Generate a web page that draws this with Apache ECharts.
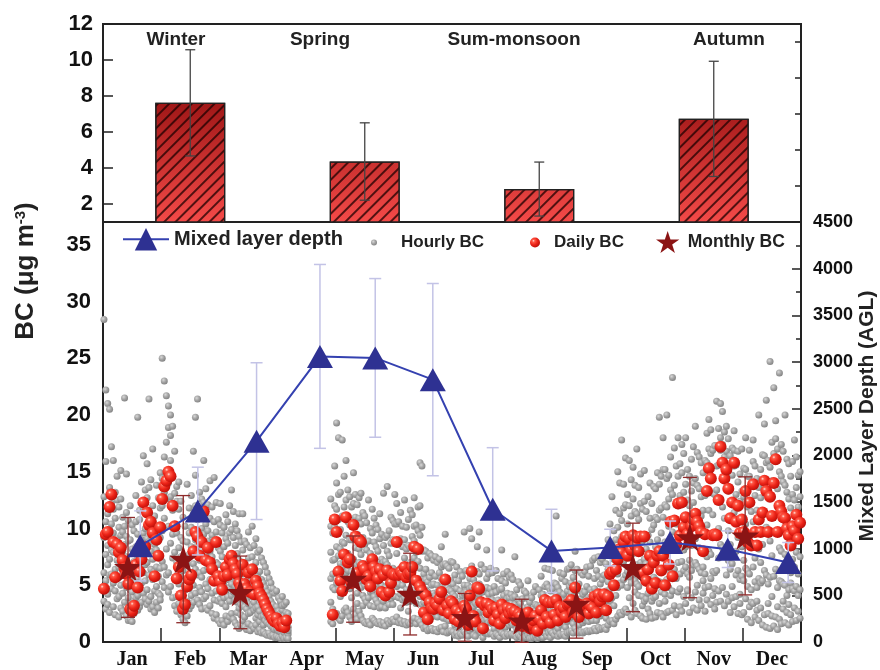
<!DOCTYPE html>
<html><head><meta charset="utf-8">
<script src="https://cdn.jsdelivr.net/npm/echarts@6/dist/echarts.min.js"></script>
<style>html,body{margin:0;padding:0;background:#fff}#c{width:880px;height:670px}</style>
</head><body><div id="c"></div>
<script>
const months = ['Jan','Feb','Mar','Apr','May','Jun','Jul','Aug','Sep','Oct','Nov','Dec'];
const daysInMonth = [31,28,31,30,31,30,31,31,30,31,30,31];

// Top panel: seasonal mean BC and SD
const seasons = ['Winter','Spring','Sum-monsoon','Autumn'];
const seasonMean = [7.62, 4.36, 2.83, 6.73];
const seasonSD = [2.95, 2.15, 1.5, 3.2];

// Mixed layer depth (m AGL), position in month units
const mldPos = [0.64,1.63,2.64,3.73,4.68,5.67,6.70,7.71,8.72,9.75,10.74,11.78];
const mldValue = [1030,1403,2152,3060,3044,2811,1422,976,1012,1066,994,852];
const mldSD = [375,470,840,985,850,1030,660,446,196,230,196,214];

// Monthly BC mean and SD
const monthlyPos = [0.43,1.38,2.36,null,4.30,5.28,6.22,7.20,8.14,9.11,10.09,11.04];
const monthlyBC = [6.57,7.3,4.37,null,5.54,4.22,2.17,1.87,3.34,6.57,9.2,9.35];
const monthlySD = [4.4,5.6,3.2,null,3.8,3.6,2.1,1.9,3.0,3.9,5.3,5.2];

// Daily BC per month
const dailyJan = [4.7,9.5,9.7,11.9,13.0,8.8,5.7,8.6,7.9,8.3,7.2,6.5,6.0,5.1,2.9,2.7,3.2,6.8,4.8,6.2,7.3,12.3,8.4,11.4,10.3,10.6,9.6,5.8,9.0,7.6,10.1];
const dailyFeb = [12.6,13.7,14.2,15.0,14.6,12.0,10.2,5.6,6.6,4.1,2.9,3.3,4.9,5.5,5.9,8.0,9.7,9.3,7.6,8.8,11.5,7.2,8.3,7.0,6.4,5.4,8.8,5.8];
const dailyMar = [5.3,4.6,5.8,6.6,5.9,7.3,7.6,6.9,6.4,6.0,5.2,4.8,6.8,5.1,4.7,6.1,4.4,6.4,4.2,5.4,4.9,4.3,4.0,3.7,3.3,2.9,2.6,2.3,2.0,1.8,2.1];
const dailyApr = [1.6,1.4,1.7,1.3,1.9,null,null,null,null,null,null,null,null,null,null,null,null,null,null,null,null,null,null,null,null,null,null,null,2.4,10.8];
const dailyMay = [9.7,6.2,5.4,4.5,7.7,11.0,7.0,7.3,5.2,10.3,9.3,6.1,9.0,8.8,6.7,6.4,5.5,5.8,4.9,7.3,6.6,6.2,5.6,6.4,4.4,5.9,4.1,6.3,4.4,5.2,6.0];
const dailyJun = [5.9,8.8,5.9,6.2,6.0,6.6,5.7,6.0,6.1,6.6,8.4,5.4,8.2,4.9,4.5,2.6,4.1,2.0,3.5,3.0,2.9,3.4,3.2,3.8,4.4,2.8,5.5,3.2,2.5,3.6];
const dailyJul = [3.4,2.0,2.8,1.8,2.6,2.3,3.2,2.9,1.5,4.1,6.2,2.3,1.8,4.8,4.7,3.5,1.2,3.2,3.4,2.6,3.2,2.9,1.9,3.0,2.4,1.6,3.3,2.8,2.1,3.0,2.5];
const dailyAug = [2.9,2.6,2.7,1.9,2.5,2.3,1.4,2.0,1.8,2.6,1.2,1.5,1.9,2.3,1.0,2.0,2.8,1.6,3.7,2.2,3.5,1.7,3.5,2.4,3.7,1.9,3.1,2.6,3.0,2.2,3.3];
const dailySep = [3.4,3.7,2.6,4.8,3.4,2.2,3.2,2.9,3.2,3.4,2.5,3.2,3.0,4.0,2.6,4.2,3.6,4.0,4.2,2.8,4.0,6.0,6.2,5.0,6.4,7.3,8.2,7.9,8.8,9.3];
const dailyOct = [7.6,9.1,8.1,9.4,8.5,9.2,8.0,9.3,6.1,9.3,5.4,6.4,7.6,4.7,7.0,5.2,7.6,8.0,6.3,7.6,5.0,8.2,6.8,10.6,5.8,10.7,8.6,12.2,9.4,12.3,10.1];
const dailyNov = [11.0,9.5,8.8,10.2,10.8,11.3,10.6,10.2,9.7,8.0,9.5,13.3,15.3,14.4,9.4,9.5,9.4,12.5,17.2,15.8,14.4,15.2,13.5,10.9,12.3,15.8,10.6,12.0,9.6,10.8];
const dailyDec = [9.7,13.3,8.8,12.3,8.5,13.9,9.7,8.5,10.8,9.7,11.4,14.2,13.3,9.7,12.8,11.1,14.0,16.1,9.7,12.0,11.5,11.0,10.9,10.0,9.4,8.5,10.2,9.8,11.2,9.1,10.5];

// Hourly BC per month: one list of readings per day
const hourlyJan = [[28.4,3.6,9.2,6.1,12.8,4.9],[22.2,7.7,2.9,10.6,5.4,15.9],[21.0,11.3,4.2,8.5,3.3,6.8],[20.5,5.9,13.6,9.9,7.3,2.6],[17.2,8.1,4.7,12.2,10.4,6.0],[16.0,3.1,9.6,5.2,11.7,7.9],[6.4,13.2,2.4,8.8,10.9,4.5],[9.1,3.8,12.5,5.7,7.2,14.6],[2.2,10.1,6.6,4.0,8.3,11.9],[15.1,5.0,9.4,3.0,7.0,12.6],[4.3,8.0,2.7,11.0,6.2,9.7],[21.5,6.9,3.5,10.2,5.1,8.6],[14.8,2.3,7.5,4.8,9.3,11.4],[3.9,6.3,1.9,8.9,5.5,10.7],[2.0,4.6,9.0,3.2,6.7,12.0],[5.8,1.8,8.2,3.4,10.3,4.4],[7.1,2.5,4.9,9.8,3.6,6.0],[12.9,3.9,8.4,5.3,10.6,6.9],[19.8,4.1,7.4,2.8,9.5,5.6],[6.5,10.8,3.1,8.7,4.8,11.6],[9.0,5.2,12.3,3.5,7.6,14.1],[16.4,7.9,4.3,11.8,6.1,9.6],[5.4,13.4,8.3,3.8,10.0,6.8],[15.7,4.6,9.1,12.7,7.0,3.3],[21.4,8.8,5.9,11.2,3.6,13.6],[6.4,10.5,4.0,14.3,8.0,2.9],[17.0,5.5,9.9,3.1,12.0,7.3],[4.5,8.6,2.6,11.1,6.2,9.4],[13.8,6.6,3.5,10.2,4.9,8.1],[7.7,3.0,12.7,5.8,9.6,4.3],[14.9,9.2,4.1,11.8,6.5,3.7]];
const hourlyFeb = [[25.0,9.8,5.3,14.4,7.1,12.0],[23.0,6.6,16.3,10.9,4.8,13.2],[21.7,12.6,8.2,17.6,5.9,15.0],[20.8,14.0,6.1,18.9,10.2,4.4],[20.0,8.7,16.0,4.9,12.8,18.2],[19.0,11.6,3.9,14.6,7.4,9.5],[16.8,5.6,10.3,3.2,13.1,7.9],[4.0,12.4,7.0,2.7,9.6,13.7],[8.3,3.4,11.7,5.1,14.1,6.5],[2.4,9.2,5.8,12.4,3.9,7.5],[6.3,2.0,8.9,4.1,11.0,3.3],[1.7,5.0,10.2,3.0,7.4,4.6],[13.9,3.6,6.8,2.3,8.8,5.4],[7.7,2.9,11.8,4.7,9.6,6.0],[3.2,8.4,5.6,12.9,4.1,10.1],[16.8,6.9,3.5,11.3,8.0,5.0],[19.8,9.0,4.3,12.0,6.4,14.7],[21.4,5.9,10.8,3.7,8.5,11.7],[7.2,13.2,4.8,9.9,3.3,6.1],[12.6,4.4,8.1,2.9,10.0,5.7],[16.0,9.5,3.8,12.3,6.3,7.7],[5.1,10.4,3.0,13.5,7.8,4.0],[8.9,2.8,12.1,6.6,4.7,9.8],[14.2,5.5,3.2,10.9,8.0,6.9],[4.3,11.9,6.9,2.5,9.4,7.5],[14.5,3.7,8.6,6.0,2.1,10.6],[7.0,12.3,4.5,9.7,2.4,5.8],[1.9,8.3,5.7,10.8,3.6,6.8]];
const hourlyMar = [[5.9,1.6,10.3,3.8,8.0,12.2],[3.4,7.5,1.9,9.6,5.3,4.2],[8.4,3.9,6.2,1.5,10.1,5.0],[2.3,9.1,4.5,11.2,6.8,3.1],[6.4,1.8,10.6,4.0,8.7,5.5],[12.0,4.8,2.2,7.3,9.6,3.6],[13.4,5.1,9.9,2.5,7.6,4.1],[4.4,11.5,2.0,6.9,9.2,5.7],[8.5,1.7,6.1,3.7,10.4,4.9],[3.5,7.8,1.4,9.8,5.6,2.6],[11.3,5.0,1.2,7.2,3.0,9.3],[6.9,1.5,4.9,8.8,3.3,2.4],[3.8,8.1,6.0,1.9,11.3,4.7],[1.3,6.7,3.1,8.9,4.8,2.2],[4.5,1.1,8.6,2.9,6.4,3.7],[7.4,3.4,9.7,1.6,5.5,2.5],[2.6,6.1,1.0,8.3,4.2,5.0],[5.1,10.2,1.4,7.5,3.2,4.0],[2.8,6.3,1.2,8.5,4.4,3.5],[9.1,1.5,4.9,3.0,7.0,2.1],[4.0,0.9,7.9,2.4,5.8,3.1],[1.1,6.2,2.7,8.1,4.3,1.8],[3.8,0.8,5.5,2.2,7.4,4.6],[2.3,7.0,0.9,5.2,3.6,1.5],[4.8,1.9,6.6,0.7,3.3,2.6],[0.6,3.0,6.1,1.7,4.4,2.2],[2.7,5.6,0.8,4.0,1.6,3.4],[1.4,3.6,0.5,5.2,2.4,1.9],[3.3,0.6,4.7,1.3,2.2,2.9],[0.4,2.0,4.3,1.1,3.0,1.6],[2.1,0.5,3.1,1.2,4.5,2.6]];
const hourlyApr = [[1.8,0.4,3.9,1.0,2.7,1.4],[0.3,2.5,1.6,3.6,0.9,2.0],[2.8,1.1,4.0,0.5,1.9,3.2],[0.8,2.3,0.3,3.3,1.5,1.2],[1.7,0.4,2.6,1.0,3.5,2.1],[0.7,1.9,0.3,2.5,1.3,1.0],null,null,null,null,null,null,null,null,null,null,null,null,null,null,null,null,null,null,null,null,null,[5.6,1.8,10.2,3.5,7.9,12.6],[2.9,9.6,4.8,1.6,7.2,6.0],[15.5,4.6,10.1,2.4,7.3,12.0]];
const hourlyMay = [[19.3,8.4,2.5,11.7,5.2,14.0],[7.6,18.0,4.6,10.8,2.1,13.0],[4.0,9.9,1.9,13.2,6.9,8.2],[17.8,6.5,2.3,8.8,4.4,11.1],[11.9,2.8,8.7,5.6,14.6,7.0],[16.0,9.4,3.0,12.5,6.1,4.7],[5.0,10.6,2.6,7.8,13.4,6.3],[7.5,2.2,12.8,4.7,10.3,9.0],[3.9,9.0,1.8,6.2,11.9,5.1],[12.2,5.8,9.1,2.9,14.9,7.3],[8.3,2.4,11.0,5.1,13.0,6.5],[4.3,9.5,2.0,6.8,12.1,3.4],[10.9,5.3,2.7,8.2,12.7,7.0],[7.7,2.3,10.4,4.8,13.1,9.2],[6.6,1.9,9.2,4.1,11.4,3.2],[3.8,8.6,1.7,6.1,11.1,5.0],[5.7,1.6,8.1,3.5,10.5,6.9],[12.5,3.9,6.3,1.8,8.9,5.2],[7.8,1.5,5.3,3.2,10.0,4.4],[4.5,9.6,2.1,7.0,11.7,5.8],[6.4,1.9,8.8,4.0,10.9,3.1],[8.4,3.7,1.7,6.0,10.3,4.9],[3.4,8.0,1.6,5.6,9.9,6.8],[11.3,4.2,6.7,1.8,9.1,3.0],[5.0,1.5,7.3,3.1,9.5,6.1],[13.1,3.6,8.5,1.7,5.9,7.0],[4.8,9.2,1.4,7.1,3.0,5.7],[13.7,6.8,1.9,9.4,4.3,8.0],[3.3,7.6,1.6,5.2,9.8,4.1],[8.7,3.8,11.0,1.8,6.1,5.0],[6.5,2.0,10.7,4.1,9.0,3.3]];
const hourlyJun = [[13.0,4.0,8.9,1.8,6.3,10.4],[7.8,2.2,12.2,4.9,10.4,6.0],[3.9,8.6,1.7,6.2,10.6,5.1],[9.1,4.2,11.4,1.9,6.5,3.0],[6.0,1.6,8.4,3.7,10.2,5.0],[12.5,3.9,6.4,1.8,9.0,7.4],[5.7,1.5,8.2,3.5,10.1,4.6],[3.8,8.5,1.7,6.1,10.8,2.7],[11.6,5.9,1.6,8.3,3.6,7.0],[6.6,1.9,9.3,4.1,11.2,5.3],[4.6,10.2,2.1,7.4,12.7,8.9],[7.9,1.6,5.5,3.4,10.3,6.6],[9.8,4.4,2.0,7.1,11.9,5.6],[15.8,6.5,1.8,9.4,4.0,12.0],[15.5,3.3,8.0,1.5,5.4,10.1],[4.2,1.2,6.0,2.6,8.1,3.5],[2.9,6.4,1.3,4.6,8.0,5.5],[5.3,1.0,3.7,7.4,2.2,4.4],[2.5,5.7,1.1,7.8,4.0,3.2],[6.1,2.4,7.6,1.2,3.9,5.0],[3.6,1.0,5.1,2.3,7.2,4.3],[1.1,4.1,7.5,2.5,5.8,3.2],[5.0,2.2,0.9,3.5,7.0,4.4],[2.7,6.1,1.2,4.3,7.3,3.4],[4.7,1.3,8.4,2.9,6.6,5.6],[3.4,0.9,4.9,2.1,6.8,2.8],[9.5,3.1,5.0,1.4,6.9,4.0],[2.0,4.8,0.8,3.3,6.7,2.6],[4.6,1.9,3.1,0.9,6.5,3.8],[2.3,5.4,1.0,3.8,7.1,4.5]];
const hourlyJul = [[3.5,0.9,5.1,2.1,7.0,4.2],[1.5,4.0,0.6,2.6,5.9,3.2],[4.7,1.9,6.6,0.8,3.1,2.4],[0.5,2.3,3.6,1.3,5.4,2.9],[3.0,0.7,4.5,1.8,6.2,2.2],[1.6,4.1,0.6,2.7,5.8,3.5],[9.7,2.0,5.0,0.9,3.4,4.3],[2.9,0.7,4.4,1.7,6.3,3.6],[1.2,3.3,0.5,2.1,5.0,2.6],[10.0,2.4,5.6,1.0,3.9,4.7],[4.8,1.2,6.7,2.9,9.1,3.7],[2.5,0.6,3.8,1.4,5.5,3.1],[0.5,2.2,3.4,1.3,5.1,4.0],[6.2,1.1,4.3,2.6,8.4,3.3],[2.5,9.7,4.2,1.0,6.0,5.1],[3.3,0.8,4.9,2.0,6.8,2.7],[1.8,0.4,2.8,1.0,4.4,3.4],[3.2,0.8,4.6,1.9,6.4,2.6],[8.1,2.0,4.8,0.9,3.3,5.6],[1.7,4.2,0.7,2.8,6.0,3.5],[3.1,0.8,4.7,1.8,6.5,2.4],[2.8,6.1,0.7,1.6,4.3,3.7],[1.2,3.2,0.5,2.0,4.9,2.5],[4.4,0.7,2.9,1.7,6.3,3.6],[2.4,0.6,3.7,1.4,5.6,3.0],[0.4,1.9,3.0,1.1,4.6,2.3],[8.1,1.9,4.7,0.8,3.2,5.4],[2.7,0.7,4.1,1.6,6.0,3.4],[1.3,3.4,0.5,2.2,5.2,2.8],[4.3,0.7,2.9,1.7,6.2,3.8],[2.6,5.7,0.6,1.5,3.9,3.2]];
const hourlyAug = [[2.8,0.7,4.2,1.7,5.9,3.4],[1.5,3.9,0.6,2.6,5.5,2.1],[7.5,1.6,4.0,0.6,2.7,3.3],[1.1,3.0,0.4,1.9,4.6,2.4],[2.4,0.6,3.7,1.4,5.3,2.9],[0.5,2.2,3.4,1.3,5.0,1.8],[1.5,0.3,2.4,0.8,3.8,2.0],[3.0,0.4,1.9,1.1,4.5,2.5],[1.8,0.4,2.8,1.0,4.3,2.2],[3.8,0.6,2.5,1.5,5.4,3.1],[0.7,2.1,0.3,1.3,3.5,1.7],[1.5,0.3,2.4,0.9,3.9,2.0],[2.9,0.4,1.8,1.0,4.4,2.3],[2.2,0.5,3.3,1.3,4.9,2.7],[1.1,0.3,1.9,0.6,3.2,1.5],[3.1,0.4,1.9,1.1,4.6,2.5],[2.7,0.6,4.1,1.6,5.8,3.3],[1.7,0.4,2.7,0.9,4.2,2.1],[3.4,0.8,4.9,2.0,6.5,2.8],[2.1,0.5,3.3,1.2,5.1,2.6],[4.8,0.8,3.3,1.9,6.4,2.5],[1.8,0.4,2.9,1.0,4.5,2.2],[3.2,0.8,4.7,1.9,6.3,2.6],[2.4,0.6,3.6,1.4,5.2,2.9],[11.1,2.1,5.1,0.9,3.5,4.2],[2.0,0.5,3.2,1.2,4.8,2.5],[2.9,0.7,4.4,1.7,6.1,3.5],[2.5,0.6,3.8,1.5,5.6,3.0],[4.2,0.7,2.8,1.6,6.0,3.4],[2.2,0.5,3.5,1.3,5.3,2.7],[3.0,0.8,4.5,1.8,6.4,3.7]];
const hourlySep = [[3.3,0.9,4.9,2.0,6.5,2.6],[2.2,5.2,1.0,3.6,6.8,4.3],[1.6,4.0,0.8,2.7,5.7,3.2],[4.5,1.2,6.3,2.7,8.0,3.6],[2.0,4.8,0.9,3.3,6.4,2.6],[1.5,3.4,0.8,2.3,5.1,2.9],[3.1,0.9,4.5,1.9,6.1,3.8],[2.8,0.8,4.2,1.7,5.9,2.3],[1.9,4.4,0.9,3.0,6.2,3.6],[3.3,1.0,4.9,2.1,6.6,2.7],[2.6,0.9,3.9,1.8,5.8,3.2],[3.2,1.0,4.6,2.1,6.7,3.9],[1.9,4.4,1.0,3.0,7.2,2.5],[3.9,1.2,5.6,2.5,7.4,4.7],[2.7,1.0,4.1,1.9,6.3,3.4],[4.1,1.3,5.8,2.6,7.5,3.3],[2.3,5.1,1.1,3.6,7.0,4.4],[3.9,1.2,5.5,2.5,7.3,3.0],[2.7,4.2,1.3,5.9,7.6,3.5],[3.0,1.1,4.5,2.1,6.9,3.8],[9.0,2.8,4.3,1.5,6.4,5.3],[3.6,8.1,1.8,5.8,10.4,4.7],[12.8,3.9,6.1,1.9,8.6,5.0],[5.0,1.6,7.3,3.2,9.8,6.2],[4.1,9.0,2.0,6.4,11.6,7.7],[15.0,4.8,7.4,2.3,10.1,6.0],[8.2,2.6,11.3,5.2,14.0,6.9],[17.8,5.0,7.9,2.4,10.7,9.3],[5.5,2.7,8.7,11.8,13.9,7.1],[16.2,5.9,9.2,2.9,12.1,7.6]];
const hourlyOct = [[7.5,2.6,10.4,4.8,13.0,6.2],[16.0,5.7,9.0,3.9,12.0,7.4],[5.2,11.1,2.2,8.1,14.3,6.6],[9.3,3.4,12.6,5.9,15.4,7.8],[4.4,8.5,2.8,11.5,13.8,5.4],[17.0,5.1,8.2,2.5,11.3,6.8],[7.9,4.1,10.8,4.9,13.6,9.4],[5.8,9.2,2.3,12.2,14.8,7.0],[6.2,2.1,8.9,4.0,11.7,3.2],[9.1,3.6,12.4,5.6,15.1,7.3],[3.8,8.2,2.0,5.6,11.5,6.9],[6.5,2.9,9.4,4.3,12.8,5.1],[4.9,10.9,2.5,7.7,14.0,8.8],[5.0,2.1,7.6,3.6,12.2,9.9],[7.1,3.9,10.3,4.6,13.7,5.7],[4.0,13.5,2.2,8.4,5.5,11.0],[7.6,2.6,10.8,5.0,14.9,9.0],[19.8,5.3,8.1,3.4,11.6,13.9],[6.4,2.5,9.6,4.4,14.6,11.8],[18.0,5.2,7.7,2.2,11.0,15.2],[5.3,3.6,8.8,4.2,15.2,12.1],[20.0,5.5,8.3,2.6,11.9,14.4],[6.9,2.7,10.2,4.8,14.7,12.6],[10.5,4.1,13.4,6.2,16.3,8.7],[23.3,4.5,9.7,2.8,6.0,13.0],[10.6,3.2,13.8,6.4,17.1,8.5],[8.7,2.4,12.1,5.6,15.5,10.4],[12.0,4.4,14.6,7.0,18.0,9.3],[9.4,3.1,12.9,6.0,15.7,4.7],[12.2,2.7,14.9,7.1,17.4,9.8],[10.0,4.0,13.2,6.3,16.6,8.1]];
const hourlyNov = [[10.9,3.4,13.9,6.6,18.0,8.4],[9.6,4.6,12.5,6.0,15.2,4.5],[5.7,8.8,2.6,12.0,14.6,7.2],[10.1,3.9,13.3,6.3,16.1,8.5],[6.8,10.8,3.0,14.0,17.2,12.3],[11.2,4.4,14.4,7.0,19.0,9.1],[10.5,2.8,13.8,6.7,16.7,5.0],[6.4,10.1,3.7,13.5,16.3,8.3],[9.7,3.2,12.8,6.1,15.8,11.1],[8.1,4.3,11.6,5.4,14.9,6.6],[9.4,2.7,12.9,6.0,16.0,4.8],[13.2,3.7,15.8,7.5,18.4,10.3],[15.1,4.9,17.0,8.0,19.6,11.6],[14.3,3.3,16.6,7.7,18.7,5.6],[9.4,4.1,13.1,6.2,16.9,11.2],[9.5,2.9,13.0,6.1,17.3,4.7],[21.2,6.3,9.3,3.5,13.4,15.5],[12.4,4.5,15.6,7.4,18.8,10.0],[21.0,8.6,16.9,3.6,12.6,18.0],[20.3,8.3,15.6,4.8,11.9,17.4],[14.2,3.2,16.3,7.6,18.5,10.9],[15.0,4.2,16.8,8.1,19.0,5.9],[13.3,3.6,15.5,7.2,17.9,9.8],[10.8,2.6,13.6,6.4,16.4,8.6],[12.1,3.9,14.7,6.9,17.1,4.9],[15.5,3.1,16.9,7.8,18.6,11.4],[10.5,4.0,13.0,5.9,15.6,8.0],[11.8,2.5,14.1,6.3,16.8,9.2],[9.5,3.4,12.4,5.5,14.8,4.2],[10.7,2.4,13.3,5.8,17.0,8.4]];
const hourlyDec = [[9.6,2.6,12.8,5.4,15.3,7.2],[13.1,3.8,15.2,6.5,18.0,10.4],[8.7,2.0,11.9,4.9,14.6,6.3],[12.2,3.1,14.6,6.0,16.9,9.3],[8.4,1.7,11.5,4.6,14.0,3.5],[13.7,3.4,15.9,6.6,17.8,10.6],[9.6,2.2,12.9,5.3,15.5,7.4],[8.4,2.8,11.6,4.8,14.4,3.6],[10.7,1.9,13.6,5.6,20.0,8.2],[9.6,3.0,12.7,5.2,15.2,7.0],[11.3,1.5,14.1,5.4,16.5,8.6],[14.0,2.4,16.4,6.3,19.2,9.9],[13.2,1.3,15.8,5.9,21.3,10.1],[9.6,2.5,13.0,5.1,16.0,3.4],[12.7,1.2,15.4,5.7,24.7,8.9],[11.0,2.3,14.2,4.0,17.6,7.6],[13.9,1.4,16.6,5.8,22.4,9.7],[15.9,2.2,17.9,6.4,19.5,11.2],[9.6,1.1,13.5,4.8,17.0,3.1],[11.9,2.0,15.0,5.4,23.7,8.3],[11.4,1.6,14.6,5.3,17.4,8.0],[10.9,2.9,14.1,5.1,16.8,3.6],[10.8,1.7,13.8,5.0,20.0,7.7],[9.9,2.6,13.2,4.1,16.1,6.8],[9.3,1.5,12.6,4.6,15.7,3.3],[8.4,2.4,11.8,5.2,14.6,6.1],[10.1,1.8,13.0,4.7,15.9,7.3],[9.7,3.0,12.5,4.5,17.8,6.6],[11.1,1.9,13.6,4.9,16.3,7.9],[9.0,2.7,11.9,4.1,14.7,6.0],[10.4,2.1,12.8,4.6,15.0,7.5]];

const hourlyAll = [hourlyJan,hourlyFeb,hourlyMar,hourlyApr,hourlyMay,hourlyJun,hourlyJul,hourlyAug,hourlySep,hourlyOct,hourlyNov,hourlyDec];
const dailyAll = [dailyJan,dailyFeb,dailyMar,dailyApr,dailyMay,dailyJun,dailyJul,dailyAug,dailySep,dailyOct,dailyNov,dailyDec];

// every reading of a day is placed at that day's position (vertical daily streaks)
const hourlyPts = [];
hourlyAll.forEach((month, m) => {
  const nd = daysInMonth[m];
  month.forEach((vals, d) => {
    if (!vals) return;
    vals.forEach(v => hourlyPts.push([m + (d + 0.5) / nd, v]));
  });
});
const dailyPts = [];
dailyAll.forEach((month, m) => {
  const nd = daysInMonth[m];
  month.forEach((v, d) => { if (v != null) dailyPts.push([m + (d + 0.5) / nd, v]); });
});
const monthlyPts = [], monthlyErr = [];
monthlyBC.forEach((v, i) => {
  if (v == null) return;
  monthlyPts.push([monthlyPos[i], v]);
  monthlyErr.push([monthlyPos[i], v - monthlySD[i], v + monthlySD[i]]);
});
const mldPts = mldValue.map((v, i) => [mldPos[i], v]);
const mldErr = mldValue.map((v, i) => [mldPos[i], v - mldSD[i], v + mldSD[i]]);
const seasonErr = seasonMean.map((v, i) => [i, v - seasonSD[i], v + seasonSD[i]]);

function errRenderer(color, width, cap) {
  return function (params, api) {
    const x = api.value(0);
    const lo = api.coord([x, api.value(1)]);
    const hi = api.coord([x, api.value(2)]);
    const st = { stroke: color, lineWidth: width };
    return { type: 'group', children: [
      { type: 'line', shape: { x1: hi[0], y1: hi[1], x2: lo[0], y2: lo[1] }, style: st },
      { type: 'line', shape: { x1: hi[0] - cap/2, y1: hi[1], x2: hi[0] + cap/2, y2: hi[1] }, style: st },
      { type: 'line', shape: { x1: lo[0] - cap/2, y1: lo[1], x2: lo[0] + cap/2, y2: lo[1] }, style: st }
    ]};
  };
}

const SANS = 'Liberation Sans, Arial, sans-serif';
const SERIF = 'Liberation Serif, Times New Roman, serif';
const STAR = 'path://M50,0 L61.8,35.1 L98.8,35.1 L68.9,56.9 L80.3,92 L50,70.3 L19.7,92 L31.1,56.9 L1.2,35.1 L38.2,35.1 Z';

const grayBall = { type: 'radial', x: 0.38, y: 0.35, r: 0.7, colorStops: [
  { offset: 0, color: '#d8d8d8' }, { offset: 0.5, color: '#a4a4a4' }, { offset: 1, color: '#808080' } ] };
const redBall = { type: 'radial', x: 0.35, y: 0.33, r: 0.72, colorStops: [
  { offset: 0, color: '#ffe2dc' }, { offset: 0.18, color: '#ff5a48' }, { offset: 0.55, color: '#ec2418' }, { offset: 1, color: '#b80e08' } ] };

const legendText = size => ({ fontFamily: SANS, fontWeight: 'bold', fontSize: size, color: '#222' });

const chart = echarts.init(document.getElementById('c'), null, { renderer: 'canvas' });
chart.setOption({
  animation: false,
  backgroundColor: '#fff',
  grid: [
    { left: 103, top: 24, width: 698, height: 198, show: true, borderColor: '#222', borderWidth: 2, backgroundColor: 'transparent' },
    { left: 103, top: 222, width: 698, height: 421, show: true, borderColor: '#222', borderWidth: 2, backgroundColor: 'transparent' }
  ],
  xAxis: [
    { gridIndex: 0, type: 'category', data: seasons, axisLine: { show: false },
      axisTick: { show: true, inside: true, alignWithLabel: true, length: 10, lineStyle: { color: '#222', width: 1.5 } },
      axisLabel: { show: false }, splitLine: { show: false } },
    { gridIndex: 1, type: 'value', min: 0, max: 12, axisLine: { show: false },
      axisTick: { show: true, inside: true, length: 14, customValues: [1,2,3,4,5,6,7,8,9,10,11], lineStyle: { color: '#222', width: 1.5 } },
      axisLabel: { customValues: [0.5,1.5,2.5,3.5,4.5,5.5,6.5,7.5,8.5,9.5,10.5,11.5],
        formatter: v => months[Math.floor(v)], fontFamily: SERIF, fontWeight: 'bold', fontSize: 20, color: '#111', margin: 8 },
      splitLine: { show: false } }
  ],
  yAxis: [
    { gridIndex: 0, type: 'value', min: 1, max: 12, axisLine: { show: false },
      axisTick: { show: true, inside: true, length: 10, customValues: [2,4,6,8,10,12], lineStyle: { color: '#222', width: 1.5 } },
      axisLabel: { customValues: [2,4,6,8,10,12], fontFamily: SANS, fontWeight: 'bold', fontSize: 22, color: '#111', margin: 10 },
      splitLine: { show: false } },
    { gridIndex: 0, type: 'value', min: 1, max: 12, axisLine: { show: false },
      axisTick: { show: true, inside: true, length: 6, customValues: [3,5,7,9,11], lineStyle: { color: '#222', width: 1.5 } },
      axisLabel: { show: false }, splitLine: { show: false } },
    { gridIndex: 1, type: 'value', min: 0, max: 37, axisLine: { show: false },
      axisTick: { show: false },
      axisLabel: { customValues: [0,5,10,15,20,25,30,35], fontFamily: SANS, fontWeight: 'bold', fontSize: 22, color: '#111', margin: 12 },
      splitLine: { show: false } },
    { gridIndex: 1, type: 'value', min: 0, max: 4500, interval: 500, position: 'right', axisLine: { show: false },
      axisTick: { show: true, inside: true, length: 9, lineStyle: { color: '#222', width: 1.5 } },
      minorTick: { show: true, splitNumber: 2, length: 5, lineStyle: { color: '#222', width: 1.5 } },
      axisLabel: { formatter: v => String(v), fontFamily: SANS, fontWeight: 'bold', fontSize: 18, color: '#111', margin: 12 },
      splitLine: { show: false } }
  ],
  legend: [
    { data: ['Mixed layer depth'], left: 122, top: 228, padding: 0, selectedMode: false, itemWidth: 46, itemHeight: 28,
      textStyle: legendText(20) },
    { data: ['Hourly BC'], left: 371, top: 234, padding: 0, selectedMode: false, itemWidth: 44, itemHeight: 6,
      textStyle: legendText(17) },
    { data: ['Daily BC'], left: 530, top: 234, padding: 0, selectedMode: false, itemWidth: 28, itemHeight: 10,
      textStyle: legendText(17) },
    { data: ['Monthly BC'], left: 656, top: 231, padding: 0, selectedMode: false, itemWidth: 30, itemHeight: 22,
      textStyle: legendText(17.5) }
  ],
  graphic: [
    { type: 'text', x: 176, y: 40, style: { text: 'Winter', textAlign: 'center', textVerticalAlign: 'middle', font: 'bold 19px ' + SANS, fill: '#222' } },
    { type: 'text', x: 320, y: 40, style: { text: 'Spring', textAlign: 'center', textVerticalAlign: 'middle', font: 'bold 19px ' + SANS, fill: '#222' } },
    { type: 'text', x: 514, y: 40, style: { text: 'Sum-monsoon', textAlign: 'center', textVerticalAlign: 'middle', font: 'bold 19px ' + SANS, fill: '#222' } },
    { type: 'text', x: 729, y: 40, style: { text: 'Autumn', textAlign: 'center', textVerticalAlign: 'middle', font: 'bold 19px ' + SANS, fill: '#222' } },
    { type: 'text', x: 26, y: 271, rotation: Math.PI / 2,
      style: { text: 'BC (μg m{sup|-3})', textAlign: 'center', textVerticalAlign: 'middle', font: 'bold 26px ' + SANS, fill: '#222',
        rich: { sup: { fontSize: 15, fontWeight: 'bold', fontFamily: SANS, verticalAlign: 'top', padding: [0, 0, 11, 0] } } } },
    { type: 'text', x: 867, y: 416, rotation: Math.PI / 2,
      style: { text: 'Mixed Layer Depth (AGL)', textAlign: 'center', textVerticalAlign: 'middle', font: 'bold 21px ' + SANS, fill: '#222' } }
  ],
  series: [
    { name: 'Seasonal BC', type: 'bar', xAxisIndex: 0, yAxisIndex: 0, data: seasonMean, barWidth: 70, z: 2,
      itemStyle: {
        color: { type: 'linear', x: 0, y: 100, x2: 0, y2: 222, global: true, colorStops: [
          { offset: 0, color: '#9e1616' }, { offset: 1, color: '#f44a48' } ] },
        borderColor: '#222', borderWidth: 1.2,
        decal: { symbol: 'rect', symbolSize: 1, dashArrayX: [1, 0], dashArrayY: [1.3, 6], rotation: -Math.PI / 4, color: 'rgba(30,0,0,0.75)' }
      } },
    { name: 'Seasonal SD', type: 'custom', xAxisIndex: 0, yAxisIndex: 0, data: seasonErr, z: 3,
      encode: { x: 0, y: [1, 2] }, renderItem: errRenderer('#444', 1.3, 10) },
    { name: 'Hourly BC', type: 'scatter', xAxisIndex: 1, yAxisIndex: 2, data: hourlyPts, symbolSize: 7, z: 2,
      itemStyle: { color: grayBall, opacity: 1 } },
    { name: 'Daily BC', type: 'scatter', xAxisIndex: 1, yAxisIndex: 2, data: dailyPts, symbolSize: 12, z: 3,
      itemStyle: { color: redBall, opacity: 1 } },
    { name: 'Monthly SD', type: 'custom', xAxisIndex: 1, yAxisIndex: 2, data: monthlyErr, z: 4,
      encode: { x: 0, y: [1, 2] }, renderItem: errRenderer('#8e2a2a', 1.3, 14) },
    { name: 'Monthly BC', type: 'scatter', xAxisIndex: 1, yAxisIndex: 2, data: monthlyPts, symbol: STAR, symbolSize: 28, z: 5,
      itemStyle: { color: '#8b1414', opacity: 1 } },
    { name: 'MLD SD', type: 'custom', xAxisIndex: 1, yAxisIndex: 3, data: mldErr, z: 6,
      encode: { x: 0, y: [1, 2] }, renderItem: errRenderer('#c3c3e6', 1.5, 12) },
    { name: 'Mixed layer depth', type: 'line', xAxisIndex: 1, yAxisIndex: 3, data: mldPts, z: 7,
      symbol: 'triangle', symbolSize: [26, 23],
      itemStyle: { color: '#2e3192' }, lineStyle: { color: '#3441b0', width: 2 } }
  ]
});
</script>
</body></html>
